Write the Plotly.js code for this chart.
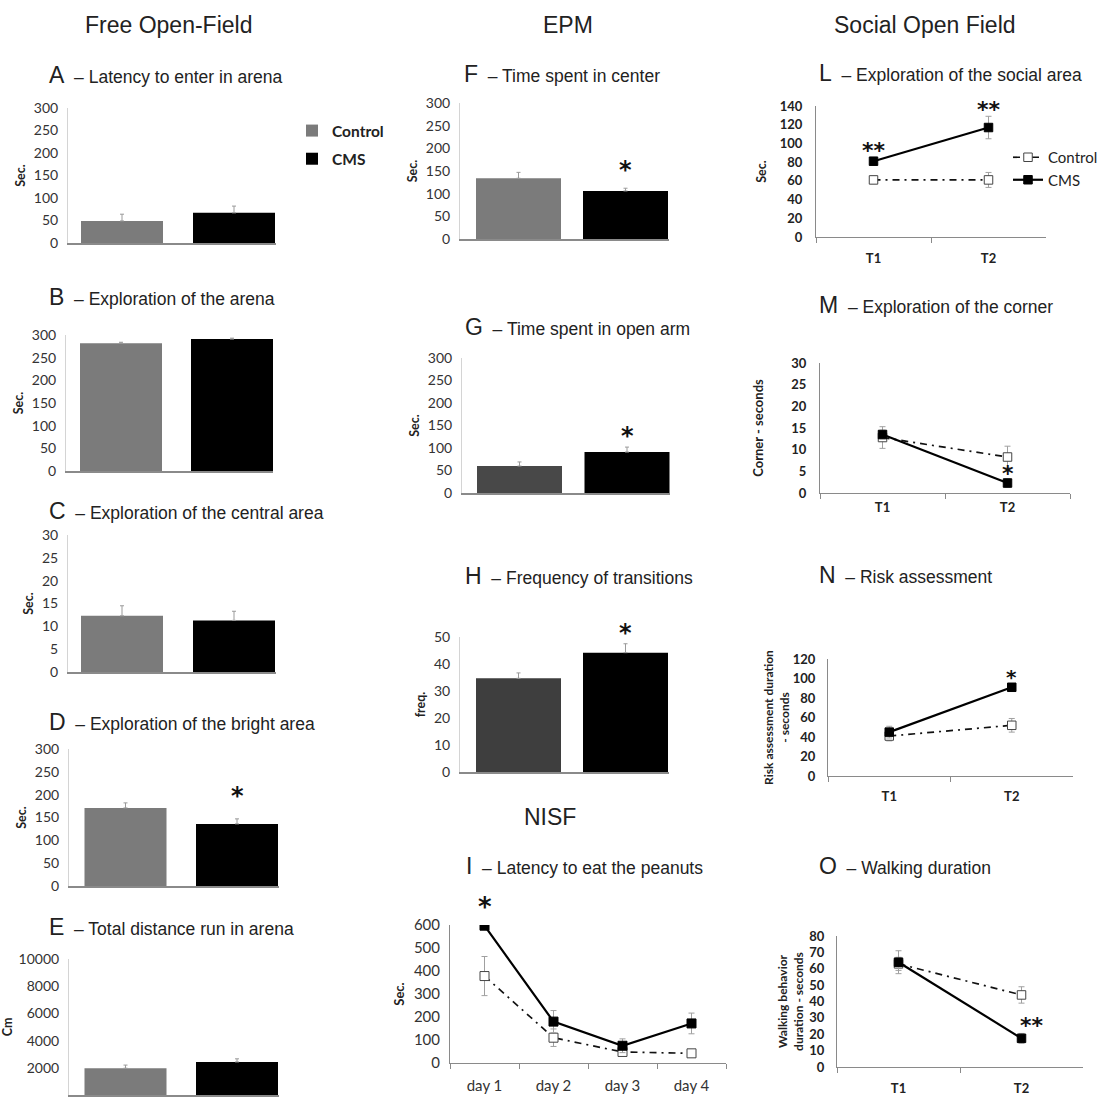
<!DOCTYPE html>
<html><head><meta charset="utf-8">
<script src="https://cdn.plot.ly/plotly-3.0.1.min.js"></script>
<style>html,body{margin:0;padding:0;background:#fff}#chart{width:1106px;height:1097px}</style>
</head><body><div id="chart"></div>
<script>
// ---------- DATA ----------
const groups = ['Control', 'CMS'];
// Free Open-Field
const latencyArena = [49, 67],        latencyArenaErr = [15, 15];
const explorArena = [282, 291],       explorArenaErr = [2, 2];
const explorCentral = [12.3, 11.3],   explorCentralErr = [2.2, 2.0];
const explorBright = [171, 136],      explorBrightErr = [11, 11];
const totalDistance = [1970, 2430],   totalDistanceErr = [230, 230];
// EPM
const timeCenter = [134, 106],        timeCenterErr = [13, 6];
const timeOpenArm = [60, 91],         timeOpenArmErr = [9, 11];
const transitions = [34.7, 44.2],     transitionsErr = [2, 3.3];
// NISF
const days = ['day 1', 'day 2', 'day 3', 'day 4'];
const peanutCtrl = [378, 110, 48, 42],  peanutCtrlErr = [85, 38, 10, 5];
const peanutCms = [597, 180, 75, 172],  peanutCmsErr = [5, 48, 30, 45];
// Social Open Field
const trials = ['T1', 'T2'];
const socialCtrl = [61, 61],     socialCtrlErr = [4, 8];
const socialCms = [81, 117],     socialCmsErr = [3, 12];
const cornerCtrl = [12.8, 8.3],  cornerCtrlErr = [2.5, 2.5];
const cornerCms = [13.5, 2.3],   cornerCmsErr = [1, 1];
const riskCtrl = [41, 52],       riskCtrlErr = [5, 7];
const riskCms = [45, 91],        riskCmsErr = [6, 3];
const walkCtrl = [63, 44],       walkCtrlErr = [4, 5];
const walkCms = [64, 17.5],      walkCmsErr = [7, 3];

// ---------- LAYOUT HELPERS ----------
const W = 1106, H = 1097;
const TICKF = 'Lato, "Open Sans", sans-serif';
const TITLEF = '"Liberation Sans", Arial, sans-serif';
const STARF = '"DejaVu Sans", sans-serif';
const traces = [];
const panels = {};
const layout = {
  width: W, height: H, margin: {l: 0, r: 0, t: 0, b: 0},
  paper_bgcolor: '#fff', plot_bgcolor: 'rgba(0,0,0,0)',
  barmode: 'overlay', showlegend: true, annotations: [],
  legend: {x: 292 / W, y: 1 - 114 / H, xanchor: 'left', yanchor: 'top',
    font: {family: TICKF, size: 15.5, weight: 'bold', color: '#222'},
    tracegroupgap: 5, bgcolor: 'rgba(0,0,0,0)', itemwidth: 30},
  legend2: {x: 1008 / W, y: 1 - 141 / H, xanchor: 'left', yanchor: 'top',
    font: {family: TICKF, size: 15, color: '#222'},
    tracegroupgap: 0, bgcolor: 'rgba(0,0,0,0)', itemwidth: 30}
};
function ax(n) { return n === 1 ? '' : String(n); }
function dom(x0, x1, yTop, yBot) {
  return {x: [x0 / W, x1 / W], y: [1 - yBot / H, 1 - yTop / H]};
}
function header(text, xc, yc) {
  layout.annotations.push({text, xref: 'paper', yref: 'paper', x: xc / W, y: 1 - yc / H,
    xanchor: 'center', yanchor: 'middle', showarrow: false,
    font: {family: TITLEF, size: 23, color: '#222'}});
}
function ptitle(letter, text, xl, yc) {
  layout.annotations.push({text: '<span style="font-size:23px">' + letter + '</span>&nbsp;&nbsp;– ' + text,
    xref: 'paper', yref: 'paper', x: xl / W, y: 1 - yc / H, xanchor: 'left', yanchor: 'middle',
    showarrow: false, font: {family: TITLEF, size: 17.5, color: '#222'}});
}
function star(n, xcat, yval, txt, size, xshift) {
  const p = panels[n];
  let y = yval, ys = -4;
  if (yval > p.yr[1]) { y = p.yr[1]; ys += (yval - p.yr[1]) / (p.yr[1] - p.yr[0]) * p.hpx; }
  layout.annotations.push({text: txt, xref: 'x' + ax(n), yref: 'y' + ax(n), x: xcat, y: y,
    xanchor: 'center', yanchor: 'middle', showarrow: false, xshift: xshift || 0, yshift: ys,
    font: {family: STARF, size: size || 24, weight: 'bold', color: '#111'}});
}
// box = [axisLeft, axisRight, top, bottom]; centers = pixel centres of the two bars (layout only)
function barPanel(n, vals, errs, ctrlColor, barPx, centers, yr, dtick, box, ytitle, tickSize, legend) {
  const d = dom(...box);
  panels[n] = {yr, hpx: box[3] - box[2]};
  const unit = centers[1] - centers[0];
  const xr = [(box[0] - centers[0]) / unit, (box[1] - centers[0]) / unit];
  const cols = [ctrlColor, '#000000'];
  groups.forEach((g, i) => {
    traces.push({type: 'bar', x: [g], y: [vals[i]], width: barPx / unit, name: g,
      xaxis: 'x' + ax(n), yaxis: 'y' + ax(n),
      marker: {color: cols[i], line: {width: 0}},
      error_y: {type: 'data', array: [errs[i]], arrayminus: [0], symmetric: false,
        color: '#9a9a9a', thickness: 1, width: 2},
      showlegend: !!legend, legend: 'legend', legendgroup: g, hoverinfo: 'skip'});
  });
  layout['xaxis' + ax(n)] = {domain: d.x, anchor: 'y' + ax(n), type: 'category',
    categoryorder: 'array', categoryarray: groups, range: xr,
    showticklabels: false, ticks: '', showline: true, linecolor: '#8a8a8a', linewidth: 1.5,
    showgrid: false, zeroline: false, fixedrange: true};
  layout['yaxis' + ax(n)] = {domain: d.y, anchor: 'x' + ax(n), range: yr, dtick: dtick, tick0: 0,
    showline: true, linecolor: '#d4d4d4', linewidth: 1, ticks: '', showgrid: false, zeroline: false,
    ticklabelstandoff: 6, fixedrange: true, tickformat: 'd',
    tickfont: {family: TICKF, size: tickSize, color: '#333'},
    title: {text: ytitle, standoff: 5, font: {family: TICKF, size: 12.5, weight: 'bold', color: '#222'}}};
}
function linePanel(n, cats, ctrl, ctrlErr, cms, cmsErr, yr, dtick, box, ytitle, tickFont, xFont, titleSize, xStand, yStand, tStand, mSize, legend) {
  const d = dom(...box);
  panels[n] = {yr, hpx: box[3] - box[2]};
  const common = {type: 'scatter', mode: 'lines+markers', x: cats, xaxis: 'x' + ax(n), yaxis: 'y' + ax(n),
    hoverinfo: 'skip', showlegend: !!legend, legend: 'legend2'};
  traces.push(Object.assign({}, common, {y: ctrl, name: 'Control', legendgroup: 'c2',
    line: {color: '#111', width: 1.7, dash: '7px,5px,2px,5px'},
    marker: {symbol: 'square', size: mSize, color: '#fff', line: {color: '#444', width: 1}},
    error_y: {type: 'data', array: ctrlErr, color: '#a0a0a0', thickness: 1, width: 3}}));
  traces.push(Object.assign({}, common, {y: cms, name: 'CMS', legendgroup: 'm2',
    line: {color: '#000', width: 2.2},
    marker: {symbol: 'square', size: mSize, color: '#000', line: {color: '#000', width: 1}},
    error_y: {type: 'data', array: cmsErr, color: '#a0a0a0', thickness: 1, width: 3}}));
  layout['xaxis' + ax(n)] = {domain: d.x, anchor: 'y' + ax(n), type: 'category',
    categoryorder: 'array', categoryarray: cats, range: [-0.5, cats.length - 0.5],
    tickson: 'boundaries', ticks: 'outside', ticklen: 5, tickcolor: '#8a8a8a', tickwidth: 1,
    showline: true, linecolor: '#8a8a8a', linewidth: 1.2, showgrid: false, zeroline: false,
    fixedrange: true, tickfont: xFont, ticklabelstandoff: xStand};
  layout['yaxis' + ax(n)] = {domain: d.y, anchor: 'x' + ax(n), range: yr, dtick: dtick, tick0: 0,
    showline: true, linecolor: '#8a8a8a', linewidth: 1, ticks: '', showgrid: false, zeroline: false,
    ticklabelstandoff: yStand, fixedrange: true, tickfont: tickFont,
    title: {text: ytitle, standoff: tStand, font: {family: TICKF, size: titleSize, weight: 'bold', color: '#222'}}};
}

// ---------- HEADERS ----------
header('Free Open-Field', 168, 25);
header('EPM', 568, 25);
header('Social Open Field', 925, 25);
header('NISF', 550, 817);

// ---------- FREE OPEN-FIELD ----------
ptitle('A', 'Latency to enter in arena', 47, 75);
barPanel(1, latencyArena, latencyArenaErr, '#7b7b7b', 82, [122, 234], [0, 300], 50, [68, 276, 108, 243], '<b>Sec.</b>', 14, true);
ptitle('B', 'Exploration of the arena', 47, 297);
barPanel(2, explorArena, explorArenaErr, '#7b7b7b', 82, [121, 232], [0, 300], 50, [66, 273, 335, 471], '<b>Sec.</b>', 14);
ptitle('C', 'Exploration of the central area', 47, 511);
barPanel(3, explorCentral, explorCentralErr, '#7b7b7b', 82, [122, 234], [0, 30], 5, [68, 276, 535, 672], '<b>Sec.</b>', 14);
ptitle('D', 'Exploration of the bright area', 47, 722);
barPanel(4, explorBright, explorBrightErr, '#7b7b7b', 82, [125.5, 237], [0, 300], 50, [69, 279, 749, 886], '<b>Sec.</b>', 14);
star(4, 'CMS', 206, '*');
ptitle('E', 'Total distance run in arena', 47, 927);
barPanel(5, totalDistance, totalDistanceErr, '#7b7b7b', 82, [125.5, 237], [0, 10000], 2000, [69, 279, 959, 1095], '<b>Cm</b>', 14);

// ---------- EPM ----------
ptitle('F', 'Time spent in center', 462, 74);
barPanel(6, timeCenter, timeCenterErr, '#7b7b7b', 85, [518.5, 625.5], [0, 300], 50, [460, 669, 103, 239], '<b>Sec.</b>', 14);
star(6, 'CMS', 161, '*');
ptitle('G', 'Time spent in open arm', 463, 327);
barPanel(7, timeOpenArm, timeOpenArmErr, '#484848', 85, [519.5, 627], [0, 300], 50, [462, 670, 358, 493], '<b>Sec.</b>', 14);
star(7, 'CMS', 136, '*');
ptitle('H', 'Frequency of transitions', 463, 576);
barPanel(8, transitions, transitionsErr, '#3e3e3e', 85, [518.5, 625.5], [0, 50], 10, [460, 669, 637, 772], '<b>freq.</b>', 14);
star(8, 'CMS', 53, '*');

// ---------- NISF ----------
ptitle('I', 'Latency to eat the peanuts', 464, 866);
linePanel(9, days, peanutCtrl, peanutCtrlErr, peanutCms, peanutCmsErr, [0, 600], 100, [450, 726, 925, 1063],
  '<b>Sec.</b>', {family: TICKF, size: 15, color: '#333'}, {family: TICKF, size: 15, color: '#333'}, 13, 9, 6, 6, 9);
star(9, 'day 1', 696, '*', 26);

// ---------- SOCIAL OPEN FIELD ----------
const boldTick = {family: TICKF, size: 13, weight: 'bold', color: '#222'};
ptitle('L', 'Exploration of the social area', 817, 73);
linePanel(10, trials, socialCtrl, socialCtrlErr, socialCms, socialCmsErr, [0, 140], 20, [816, 1046, 106, 237],
  'Sec.', boldTick, boldTick, 12.5, 9, 10, 10, 8.5, true);
star(10, 'T1', 97, '**', 22);
star(10, 'T2', 141, '**', 22);
ptitle('M', 'Exploration of the corner', 817, 305);
linePanel(11, trials, cornerCtrl, cornerCtrlErr, cornerCms, cornerCmsErr, [0, 30], 5, [820, 1070, 363, 493],
  'Corner - seconds', boldTick, boldTick, 13, 2, 10, 24, 8.5);
star(11, 'T2', 5.5, '*', 22);
ptitle('N', 'Risk assessment', 817, 575);
linePanel(12, trials, riskCtrl, riskCtrlErr, riskCms, riskCmsErr, [0, 120], 20, [828, 1073, 659, 776],
  'Risk assessment duration<br>- seconds', boldTick, boldTick, 12, 8, 9, 0, 8.5);
star(12, 'T2', 106, '*', 20);
ptitle('O', 'Walking duration', 817, 866);
linePanel(13, trials, walkCtrl, walkCtrlErr, walkCms, walkCmsErr, [0, 80], 10, [837, 1083, 936, 1067],
  'Walking behavior<br>duration - seconds', boldTick, boldTick, 12, 9, 9, 3, 8.5);
star(13, 'T2', 27.5, '**', 22, 10);

Plotly.newPlot('chart', traces, layout, {displayModeBar: false, staticPlot: true});
</script>
</body></html>
